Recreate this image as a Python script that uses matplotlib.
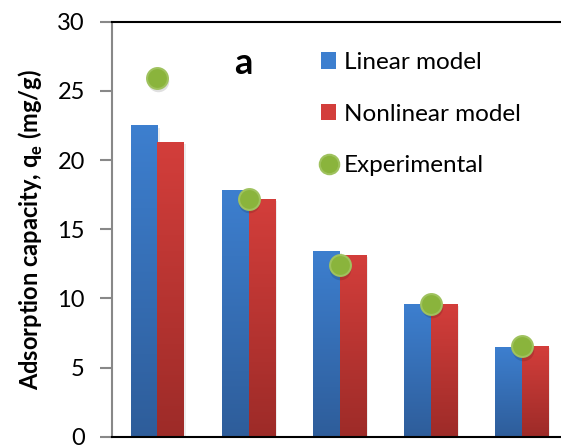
import numpy as np
import matplotlib
matplotlib.use("Agg")
import matplotlib.pyplot as plt
from matplotlib.patches import Patch
from matplotlib.lines import Line2D
from matplotlib.colors import LinearSegmentedColormap

plt.rcParams['font.family'] = ['Lato', 'DejaVu Sans']

# Adsorption capacity per run (mg/g)
groups = [1, 2, 3, 4, 5]
linear_model = [22.5, 17.8, 13.45, 9.57, 6.45]
nonlinear_model = [21.3, 17.2, 13.15, 9.57, 6.55]
experimental = [25.95, 17.2, 12.4, 9.62, 6.55]
y_ticks = [0, 5, 10, 15, 20, 25, 30]

fig = plt.figure(figsize=(5.61, 4.46), dpi=100)
ax = fig.add_axes([0.1996, 0.0209, 0.8114, 0.9305])

x = np.arange(len(groups))
w = 0.29

blue_top, blue_bot = "#3d7fcf", "#2e5d9a"
red_top, red_bot = "#d33e3b", "#9d2b28"


def shaded_bars(xpos, vals, top, bot):
    bars = ax.bar(xpos, vals, width=w, color=top, zorder=2, linewidth=0)
    cmap = LinearSegmentedColormap.from_list("g", [bot, top])
    grad = np.linspace(0, 1, 256).reshape(-1, 1)
    for b in bars:
        x0, bw, h = b.get_x(), b.get_width(), b.get_height()
        # soft shadow on the right side
        ax.bar(x0 + bw / 2 + 0.025, h - 0.15, width=bw, color="#000000",
               alpha=0.07, zorder=1, linewidth=0)
        im = ax.imshow(grad, cmap=cmap, origin="lower", aspect="auto",
                       extent=[x0, x0 + bw, 0, h], zorder=2.5)
        im.set_clip_path(b)
    return bars


shaded_bars(x - w / 2, linear_model, blue_top, blue_bot)
shaded_bars(x + w / 2, nonlinear_model, red_top, red_bot)

# marker shadow, then markers
ax.plot(x + 0.01, np.array(experimental) - 0.25, 'o', ms=15.5, color="#000000",
        alpha=0.12, mec="none", zorder=3)
ax.plot(x, experimental, 'o', ms=15, mfc="#8ab43c", mec="#9fc25e", mew=1.5,
        zorder=4)

ax.set_xlim(-0.5, 4.5)
ax.set_ylim(0, 30)
ax.set_yticks(y_ticks)
ax.set_xticks([])
ax.tick_params(axis='y', direction='out', length=9, width=1.5, color="#888888",
               labelsize=17, pad=10.5)

ax.spines["left"].set_color("#888888")
ax.spines["left"].set_linewidth(1.5)
ax.spines["top"].set_color("black")
ax.spines["bottom"].set_color("black")
ax.spines["top"].set_linewidth(1.5)
ax.spines["bottom"].set_linewidth(1.5)
ax.spines["right"].set_visible(False)

ax.set_ylabel("Adsorption capacity, q$_\\mathregular{e}$ (mg/g)", fontsize=17,
              fontweight="bold", labelpad=9)

ax.text(0.288, 0.9, "a", transform=ax.transAxes, ha="center", va="center",
        fontsize=26, fontweight="bold")

handles = [
    Patch(facecolor=blue_top, edgecolor="none"),
    Patch(facecolor=red_top, edgecolor="none"),
    Line2D([], [], marker='o', ls='none', ms=14, mfc="#8ab43c", mec="#9fc25e",
           mew=1.5),
]
ax.legend(handles, ["Linear model", "Nonlinear model", "Experimental"],
          loc="upper left", bbox_to_anchor=(0.437, 0.95), frameon=False,
          fontsize=17.5, handlelength=0.65, handleheight=0.65, handletextpad=0.3,
          labelspacing=1.25, borderaxespad=0)

fig.savefig("out.png", dpi=100)
